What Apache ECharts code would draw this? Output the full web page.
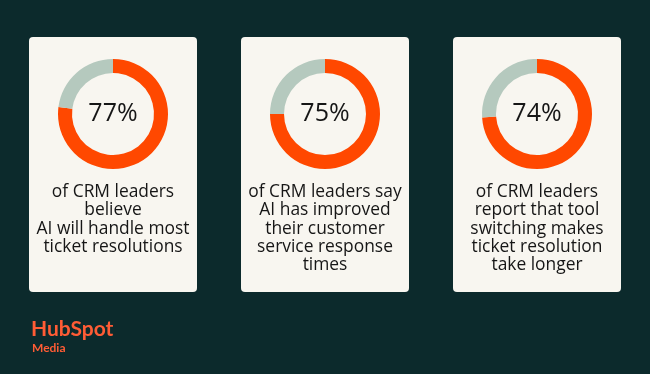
<!DOCTYPE html>
<html>
<head>
<meta charset="utf-8">
<script src="https://cdn.jsdelivr.net/npm/echarts@6/dist/echarts.min.js"></script>
<style>
html,body{margin:0;padding:0;background:#0c2a2c;}
#c{width:650px;height:374px;}
</style>
</head>
<body>
<div id="c"></div>
<script>
const percents = [77, 75, 74];
const descriptions = [
  "of CRM leaders\nbelieve\nAI will handle most\nticket resolutions",
  "of CRM leaders say\nAI has improved\ntheir customer\nservice response\ntimes",
  "of CRM leaders\nreport that tool\nswitching makes\nticket resolution\ntake longer"
];
const brand = "HubSpot";
const brandSub = "Media";

const ORANGE = "#ff4800";
const GRAY = "#b5c9be";
const CARD = "#f8f6f0";
const INK = "#161616";
const FONT = "'Open Sans', Lato, sans-serif";
const BRAND_FONT = "Lato, sans-serif";

const cardX = [29, 241, 453];
const cardW = 168, cardY = 37, cardH = 255;

const chart = echarts.init(document.getElementById('c'), null, {renderer: 'canvas'});

const graphics = [];
cardX.forEach((x, i) => {
  graphics.push({
    type: 'rect', z: 0,
    shape: {x: x, y: cardY, width: cardW, height: cardH, r: 4},
    style: {fill: CARD}
  });
  graphics.push({
    type: 'text', z: 10,
    x: x + cardW / 2, y: 183,
    style: {
      text: descriptions[i],
      fill: INK,
      font: '400 17.4px ' + FONT,
      align: 'center',
      verticalAlign: 'top',
      lineHeight: 18.3
    }
  });
});
graphics.push({
  type: 'text', x: 31, y: 319,
  style: {text: brand, fill: '#ff5c35', font: '700 21px ' + BRAND_FONT}
});
graphics.push({
  type: 'text', x: 32, y: 342,
  style: {text: brandSub, fill: '#ff5c35', font: '700 12px ' + BRAND_FONT}
});

const series = percents.map((p, i) => ({
  type: 'pie',
  silent: true,
  z: 5,
  center: [cardX[i] + cardW / 2, 114],
  radius: [41, 55],
  startAngle: 90,
  clockwise: true,
  label: {show: false},
  labelLine: {show: false},
  emphasis: {disabled: true},
  data: [
    {value: p, itemStyle: {color: ORANGE},
     label: {show: true, position: 'center', formatter: p + '%',
             color: INK, fontSize: 25, fontWeight: 400, fontFamily: FONT,
             padding: [4, 0, 0, 0]}},
    {value: 100 - p, itemStyle: {color: GRAY}}
  ]
}));

chart.setOption({
  backgroundColor: '#0c2a2c',
  animation: false,
  graphic: graphics,
  series: series
});
</script>
</body>
</html>
